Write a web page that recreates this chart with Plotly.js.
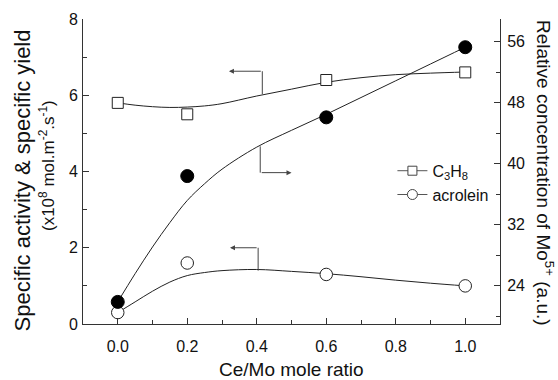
<!DOCTYPE html>
<html>
<head>
<meta charset="utf-8">
<script src="https://cdn.plot.ly/plotly-3.0.1.min.js"></script>
<style>html,body{margin:0;padding:0;background:#fff;}#chart{width:558px;height:380px;}</style>
</head>
<body>
<div id="chart"></div>
<script>
// Measured data points
const ratio = [0, 0.2, 0.6, 1.0];
const c3h8 = [5.8, 5.5, 6.4, 6.6];
const acrolein = [0.3, 1.6, 1.3, 1.0];
const mo5 = [21.9, 38.4, 46.1, 55.3];

// Fitted curves
const fitX = [0, 0.05, 0.1, 0.15, 0.2, 0.25, 0.3, 0.4, 0.5, 0.6, 0.7, 0.8, 0.9, 1.0];
const c3h8Fit = [5.80, 5.74, 5.70, 5.68, 5.69, 5.72, 5.78, 5.98, 6.16, 6.34, 6.46, 6.54, 6.58, 6.61];
const acroleinFit = [0.30, 0.58, 0.86, 1.10, 1.27, 1.35, 1.40, 1.43, 1.38, 1.32, 1.24, 1.15, 1.07, 1.00];
const mo5Fit = [21.9, 25.6, 29.1, 32.3, 35.2, 37.4, 39.3, 42.2, 44.4, 46.5, 48.7, 50.9, 53.1, 55.3];

// Tick labels
const xTicks = [0, 0.2, 0.4, 0.6, 0.8, 1.0];
const xTickText = ['0.0', '0.2', '0.4', '0.6', '0.8', '1.0'];
const xMinor = [0.1, 0.3, 0.5, 0.7, 0.9];
const yTicks = [0, 2, 4, 6, 8];
const yMinor = [1, 3, 5, 7];
const y2Ticks = [24, 32, 40, 48, 56];
const y2Minor = [20, 28, 36, 44, 52];

const LC = '#222';
const AX = '#333';

const traces = [
  {x: fitX, y: c3h8Fit, mode: 'lines', line: {color: LC, width: 1, shape: 'spline'}, showlegend: false, hoverinfo: 'skip'},
  {x: fitX, y: acroleinFit, mode: 'lines', line: {color: LC, width: 1, shape: 'spline'}, showlegend: false, hoverinfo: 'skip'},
  {x: fitX, y: mo5Fit, yaxis: 'y2', mode: 'lines', line: {color: LC, width: 1, shape: 'spline'}, showlegend: false, hoverinfo: 'skip'},
  {x: ratio, y: c3h8, mode: 'markers', showlegend: false,
   marker: {symbol: 'square', size: 11, color: 'white', line: {color: LC, width: 1}}},
  {x: ratio, y: acrolein, mode: 'markers', showlegend: false,
   marker: {symbol: 'circle', size: 12.5, color: 'white', line: {color: LC, width: 1}}},
  {x: ratio, y: mo5, yaxis: 'y2', mode: 'markers', showlegend: false,
   marker: {symbol: 'circle', size: 13, color: '#000', line: {color: '#000', width: 1}}},
  {x: [null], y: [null], mode: 'lines+markers', name: 'C<sub>3</sub>H<sub>8</sub>',
   line: {color: '#555', width: 1}, marker: {symbol: 'square', size: 9, color: 'white', line: {color: '#444', width: 1}}},
  {x: [null], y: [null], mode: 'lines+markers', name: 'acrolein',
   line: {color: '#555', width: 1}, marker: {symbol: 'circle', size: 10, color: 'white', line: {color: '#444', width: 1}}}
];

const axisCommon = {
  ticks: 'inside', tickwidth: 1, tickcolor: AX, showline: true, linecolor: AX, linewidth: 1,
  zeroline: false, showgrid: false, automargin: false, tickfont: {size: 16, color: '#111'}
};

const arrowCommon = {xref: 'x', yref: 'y', axref: 'x', ayref: 'y', showarrow: true, arrowhead: 2,
  arrowsize: 1, arrowwidth: 1, arrowcolor: '#444', text: '', standoff: 0, startstandoff: 0};

const layout = {
  width: 558, height: 380,
  margin: {l: 83, r: 58, t: 19, b: 56, pad: 0, autoexpand: false},
  paper_bgcolor: 'white', plot_bgcolor: 'white',
  font: {family: 'Liberation Sans, Arial, Helvetica, sans-serif', size: 16, color: '#111'},
  xaxis: Object.assign({}, axisCommon, {
    range: [-0.1, 1.1], tickmode: 'array', tickvals: xTicks, ticktext: xTickText, ticklen: 6,
    ticklabelstandoff: 8,
    minor: {tickmode: 'array', tickvals: xMinor, ticks: 'inside', ticklen: 4, tickcolor: AX, tickwidth: 1}
  }),
  yaxis: Object.assign({}, axisCommon, {
    range: [0, 8], tickmode: 'array', tickvals: yTicks, ticklen: 6, ticklabelstandoff: 1,
    minor: {tickmode: 'array', tickvals: yMinor, ticks: 'inside', ticklen: 4, tickcolor: AX, tickwidth: 1}
  }),
  yaxis2: Object.assign({}, axisCommon, {
    overlaying: 'y', side: 'right', range: [19, 59], tickmode: 'array', tickvals: y2Ticks, ticklen: 6,
    ticklabelstandoff: 3,
    minor: {tickmode: 'array', tickvals: y2Minor, ticks: 'inside', ticklen: 4, tickcolor: AX, tickwidth: 1}
  }),
  legend: {x: 0.742, y: 0.558, xanchor: 'left', yanchor: 'top', bgcolor: 'rgba(0,0,0,0)',
    font: {size: 16, color: '#111'}, tracegroupgap: 0, itemwidth: 30},
  shapes: [
    {type: 'line', xref: 'x', yref: 'y', x0: 0.416, x1: 0.416, y0: 6.03, y1: 6.63, line: {color: '#444', width: 1}},
    {type: 'line', xref: 'x', yref: 'y', x0: 0.41, x1: 0.41, y0: 4.66, y1: 3.97, line: {color: '#444', width: 1}},
    {type: 'line', xref: 'x', yref: 'y', x0: 0.404, x1: 0.404, y0: 1.40, y1: 2.0, line: {color: '#444', width: 1}}
  ],
  annotations: [
    Object.assign({}, arrowCommon, {x: 0.32, y: 6.63, ax: 0.416, ay: 6.63}),
    Object.assign({}, arrowCommon, {x: 0.50, y: 3.97, ax: 0.41, ay: 3.97}),
    Object.assign({}, arrowCommon, {x: 0.323, y: 2.0, ax: 0.404, ay: 2.0}),
    {xref: 'paper', yref: 'paper', x: 0.5, y: (324 - 369) / 305, yanchor: 'middle', xanchor: 'center', showarrow: false,
     text: 'Ce/Mo mole ratio', font: {size: 19, color: '#111'}},
    {xref: 'paper', yref: 'paper', x: (22 - 83) / 417, y: (324 - 180.5) / 305, xanchor: 'center', yanchor: 'middle',
     showarrow: false, textangle: -90, text: 'Specific activity & specific yield', font: {size: 22, color: '#111'}},
    {xref: 'paper', yref: 'paper', x: (47 - 83) / 417, y: (324 - 166) / 305, xanchor: 'center', yanchor: 'middle',
     showarrow: false, textangle: -90, text: '(x10<sup>8</sup> mol.m<sup>-2</sup>.s<sup>-1</sup>)', font: {size: 17, color: '#111'}},
    {xref: 'paper', yref: 'paper', x: (545 - 83) / 417, y: (324 - 173) / 305, xanchor: 'center', yanchor: 'middle',
     showarrow: false, textangle: 90, text: 'Relative concentration of Mo<sup>5+</sup> (a.u.)', font: {size: 19, color: '#111'}}
  ]
};

Plotly.newPlot('chart', traces, layout, {displayModeBar: false, staticPlot: true});
</script>
</body>
</html>
